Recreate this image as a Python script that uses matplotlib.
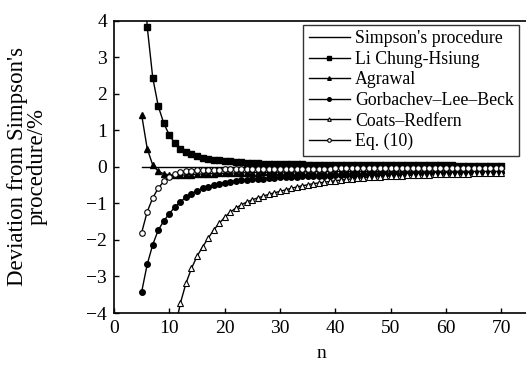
import matplotlib
matplotlib.use("Agg")
import matplotlib.pyplot as plt

# Zahl der Teilintervalle n
n = list(range(5, 71))

# Abweichungen in %
simpson = [0.0] * len(n)

li_chung = [6.60, 3.84, 2.44, 1.66, 1.19, 0.87, 0.64, 0.48, 0.40, 0.34,
            0.29, 0.25, 0.22, 0.20, 0.18, 0.16, 0.15, 0.13, 0.12, 0.11,
            0.10, 0.095, 0.09, 0.085, 0.08, 0.075,
            0.072, 0.070, 0.068, 0.066, 0.064, 0.062, 0.060, 0.058, 0.057, 0.056,
            0.055, 0.054, 0.053, 0.052, 0.051, 0.050, 0.049, 0.048, 0.047, 0.046,
            0.045, 0.044, 0.043, 0.042, 0.041, 0.040, 0.040, 0.039, 0.038, 0.038,
            0.037, 0.036, 0.036, 0.035, 0.034, 0.034, 0.033, 0.033, 0.032, 0.032]

agrawal = [1.42, 0.50, 0.05, -0.12, -0.19, -0.22, -0.23, -0.23, -0.22, -0.21,
           -0.20, -0.195, -0.19, -0.185, -0.18, -0.175,
           -0.170, -0.167, -0.164, -0.161, -0.158, -0.155, -0.152, -0.150, -0.148, -0.146,
           -0.144, -0.142, -0.140, -0.138, -0.136, -0.134, -0.132, -0.131, -0.130, -0.129,
           -0.128, -0.127, -0.126, -0.125, -0.124, -0.123, -0.122, -0.121, -0.120, -0.119,
           -0.118, -0.117, -0.116, -0.115, -0.114, -0.113, -0.112, -0.111, -0.110, -0.109,
           -0.108, -0.107, -0.106, -0.105, -0.104, -0.103, -0.102, -0.101, -0.100, -0.099]

gorbachev = [-3.42, -2.67, -2.13, -1.73, -1.48, -1.28, -1.10, -0.96, -0.83, -0.73,
             -0.65, -0.59, -0.54, -0.50, -0.46, -0.43, -0.41, -0.39, -0.37, -0.355,
             -0.34, -0.33, -0.32, -0.31, -0.30, -0.29,
             -0.283, -0.276, -0.270, -0.264, -0.258, -0.252, -0.247, -0.242, -0.237, -0.232,
             -0.227, -0.222, -0.218, -0.214, -0.210, -0.206, -0.202, -0.198, -0.194, -0.190,
             -0.187, -0.184, -0.181, -0.178, -0.175, -0.172, -0.169, -0.166, -0.163, -0.160,
             -0.158, -0.156, -0.154, -0.152, -0.150, -0.148, -0.146, -0.144, -0.142, -0.140]

coats = [-21.5, -14.9, -11.0, -8.4, -6.6, -5.4, -4.45, -3.73, -3.19, -2.78,
         -2.45, -2.19, -1.96, -1.73, -1.55, -1.38, -1.24, -1.13, -1.04, -0.96,
         -0.90, -0.85, -0.80, -0.75, -0.71, -0.67,
         -0.63, -0.59, -0.55, -0.52, -0.49, -0.46, -0.44, -0.42, -0.40, -0.38,
         -0.36, -0.345, -0.33, -0.315, -0.30, -0.29, -0.28, -0.27, -0.26, -0.25,
         -0.244, -0.238, -0.232, -0.226, -0.221, -0.216, -0.211, -0.206, -0.202, -0.198,
         -0.194, -0.190, -0.186, -0.183, -0.180, -0.177, -0.174, -0.171, -0.168, -0.165]

eq10 = [-1.80, -1.23, -0.85, -0.58, -0.40, -0.28, -0.20, -0.15, -0.12, -0.10,
        -0.09, -0.085, -0.08, -0.076, -0.073, -0.070,
        -0.068, -0.066, -0.064, -0.062, -0.060, -0.059, -0.058, -0.057, -0.056, -0.055,
        -0.054, -0.053, -0.052, -0.051, -0.050, -0.049, -0.048, -0.047, -0.046, -0.045,
        -0.045, -0.044, -0.044, -0.043, -0.043, -0.042, -0.042, -0.041, -0.041, -0.040,
        -0.040, -0.040, -0.039, -0.039, -0.038, -0.038, -0.037, -0.037, -0.036, -0.036,
        -0.036, -0.035, -0.035, -0.034, -0.034, -0.034, -0.033, -0.033, -0.032, -0.032]

plt.rcParams["font.family"] = ["Liberation Serif", "DejaVu Serif"]

fig = plt.figure(figsize=(5.26, 3.68), dpi=100)
ax = fig.add_axes([114 / 526, 1 - 313 / 368, 415 / 526, (313 - 20.7) / 368])

ax.plot(n, simpson, color="black", lw=1.0, label="Simpson's procedure")
ax.plot(n, li_chung, color="black", lw=1.0, marker="s", ms=4,
        label="Li Chung-Hsiung")
ax.plot(n, agrawal, color="black", lw=1.0, marker="^", ms=4,
        label="Agrawal")
ax.plot(n, gorbachev, color="black", lw=1.0, marker="o", ms=4,
        label="Gorbachev\u2013Lee\u2013Beck")
ax.plot(n, coats, color="black", lw=1.0, marker="^", ms=4,
        mfc="white", mew=0.8, label="Coats\u2013Redfern")
ax.plot(n, eq10, color="black", lw=1.0, marker="o", ms=4,
        mfc="white", mew=0.8, label="Eq. (10)")

ax.set_xlim(0, 75)
ax.set_ylim(-4, 4)
ax.set_xticks(range(0, 71, 10))
ax.set_yticks(range(-4, 5))
ax.set_yticklabels(["\u22124", "\u22123", "\u22122", "\u22121", "0", "1", "2", "3", "4"])
ax.tick_params(direction="in", length=3.5, width=1, labelsize=14, pad=5,
               top=False, right=False)
for sp in ax.spines.values():
    sp.set_linewidth(1.2)
ax.spines["right"].set_visible(False)

ax.set_xlabel("n", fontsize=14, labelpad=6)
ax.set_ylabel("Deviation from Simpson's\nprocedure/%", fontsize=16.5,
              linespacing=0.95)
ax.yaxis.set_label_coords((48 - 114) / 415, 0.5)

leg = ax.legend(loc="upper right", bbox_to_anchor=(519 / 526, 1 - 25 / 368),
                bbox_transform=fig.transFigure, fontsize=12.8,
                frameon=True, fancybox=False, edgecolor="black",
                handlelength=2.3, handletextpad=0.3, labelspacing=0.2,
                borderpad=0.3, borderaxespad=0, markerscale=0.65)
leg.get_frame().set_linewidth(1.0)

plt.savefig("out.png", dpi=100)
